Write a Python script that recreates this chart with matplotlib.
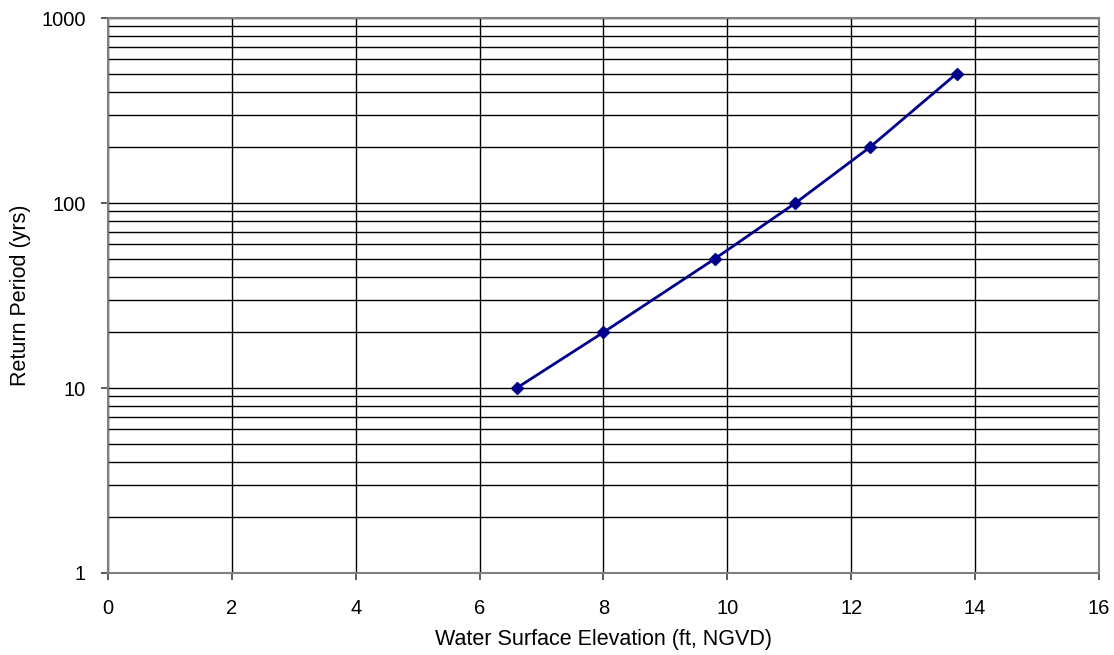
import matplotlib
matplotlib.use("Agg")
import matplotlib.pyplot as plt
from matplotlib.ticker import LogLocator, NullFormatter

elevation = [6.6, 8.0, 9.8, 11.1, 12.3, 13.7]
return_period = [10, 20, 50, 100, 200, 500]
x_ticks = [0, 2, 4, 6, 8, 10, 12, 14, 16]
y_ticks = [1, 10, 100, 1000]
y_tick_labels = ["1", "10", "100", "1000"]

plt.rcParams['font.family'] = ['Liberation Sans', 'DejaVu Sans']

fig = plt.figure(figsize=(11.14, 6.55), dpi=100)
ax = fig.add_axes([0.0969, 0.1252, 0.8896, 0.8473])

ax.set_yscale('log')
ax.set_xlim(0, 16)
ax.set_ylim(1, 1000)

ax.set_xticks(x_ticks)
ax.set_xticklabels([str(v) for v in x_ticks])
ax.set_yticks(y_ticks)
ax.set_yticklabels(y_tick_labels)
ax.yaxis.set_minor_locator(LogLocator(base=10, subs=range(2, 10)))
ax.yaxis.set_minor_formatter(NullFormatter())

ax.grid(True, which='major', axis='both', color='black', linewidth=1.0)
ax.grid(True, which='minor', axis='y', color='black', linewidth=1.0)
ax.set_axisbelow(True)

for s in ax.spines.values():
    s.set_color('#808080')
    s.set_linewidth(1.5)

ax.tick_params(axis='both', which='major', direction='out', length=5, width=1.2,
               color='#404040', labelsize=14.5, labelcolor='black')
ax.tick_params(axis='x', which='major', pad=14)
ax.tick_params(axis='y', which='major', pad=11)
ax.tick_params(axis='y', which='minor', length=0)

ax.plot(elevation, return_period, color='#00008B', linewidth=2.0,
        marker='D', markersize=6, markerfacecolor='#00008B', markeredgecolor='#00008B')

ax.set_xlabel('Water Surface Elevation (ft, NGVD)', fontsize=15.5, color='black')
ax.xaxis.set_label_coords(0.5, -0.101)
ax.set_ylabel('Return Period (yrs)', fontsize=15.5, color='black')
ax.yaxis.set_label_coords(-0.0777, 0.5)

fig.savefig('out.png', dpi=100)
